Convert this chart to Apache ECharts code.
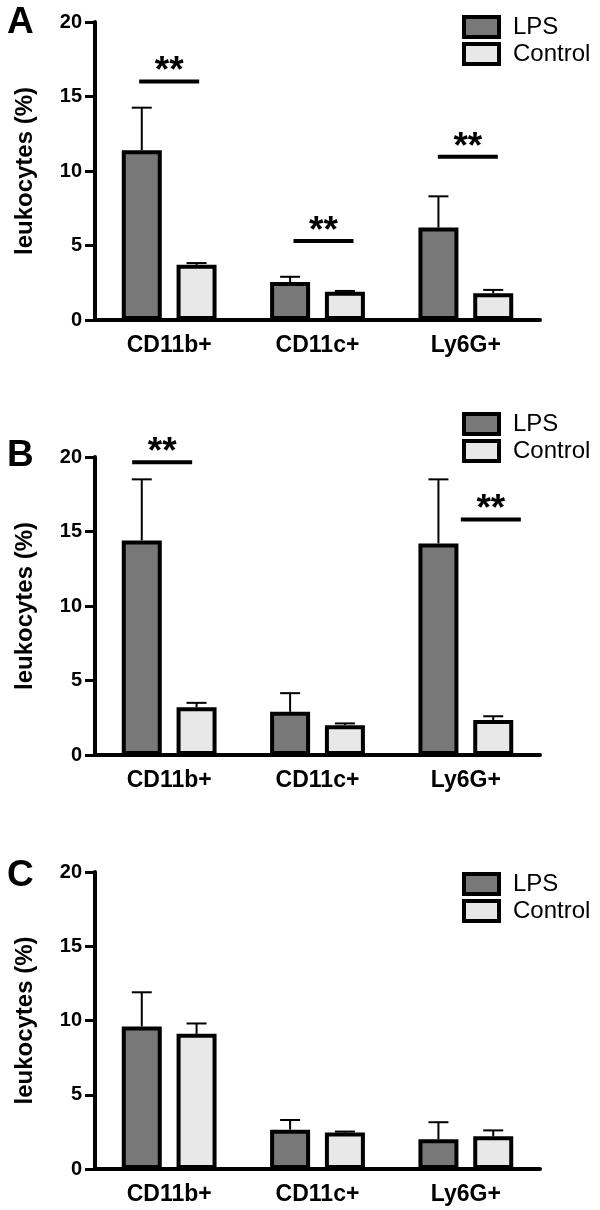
<!DOCTYPE html>
<html>
<head>
<meta charset="utf-8">
<script src="https://cdn.jsdelivr.net/npm/echarts@6/dist/echarts.min.js"></script>
<style>
  html, body { margin: 0; padding: 0; background: #fff; }
  #main { width: 600px; height: 1210px; }
</style>
</head>
<body>
<div id="main"></div>
<script>
// categories and tick labels
var categories = ['CD11b+', 'CD11c+', 'Ly6G+'];
var yTicks = [0, 5, 10, 15, 20];

// panel A
var lpsA = [11.4, 2.55, 6.2];
var lpsSemA = [2.85, 0.35, 2.1];
var ctrlA = [3.7, 1.9, 1.8];
var ctrlSemA = [0.12, 0.05, 0.22];
var sigA = [[0, 16.0, 0], [1, 5.3, 6], [2, 10.95, 2]];

// panel B
var lpsB = [14.4, 2.9, 14.2];
var lpsSemB = [4.1, 1.25, 4.3];
var ctrlB = [3.2, 2.0, 2.35];
var ctrlSemB = [0.3, 0.12, 0.25];
var sigB = [[0, 19.65, -7], [2, 15.8, 25]];

// panel C
var lpsC = [9.6, 2.65, 2.0];
var lpsSemC = [2.3, 0.65, 1.15];
var ctrlC = [9.1, 2.45, 2.2];
var ctrlSemC = [0.7, 0.07, 0.4];
var sigC = [];

var FONT = '"Liberation Sans", Arial, sans-serif';
var BAR_W = 40;
var BAR_GAP = 0.37;
var OFF = (BAR_W + BAR_W * BAR_GAP) / 2;

var panels = [
  { name: 'A', letterTop: 4, top: 22, height: 298, legendTop: 15, lps: lpsA, lpsSem: lpsSemA, ctrl: ctrlA, ctrlSem: ctrlSemA, sig: sigA },
  { name: 'B', letterTop: 437, top: 457, height: 298, legendTop: 412, lps: lpsB, lpsSem: lpsSemB, ctrl: ctrlB, ctrlSem: ctrlSemB, sig: sigB },
  { name: 'C', letterTop: 857, top: 872, height: 297, legendTop: 872, lps: lpsC, lpsSem: lpsSemC, ctrl: ctrlC, ctrlSem: ctrlSemC, sig: sigC }
];

function errorRender(offset) {
  return function (params, api) {
    var x = api.value(0), v = api.value(1), e = api.value(2);
    var base = api.coord([x, v]);
    var top = api.coord([x, v + e]);
    var cx = base[0] + offset;
    return {
      type: 'group',
      children: [
        { type: 'line', shape: { x1: cx, y1: base[1], x2: cx, y2: top[1] }, style: { stroke: '#000', lineWidth: 2 } },
        { type: 'line', shape: { x1: cx - 10, y1: top[1], x2: cx + 10, y2: top[1] }, style: { stroke: '#000', lineWidth: 2 } }
      ]
    };
  };
}

function sigRender(params, api) {
  var p = api.coord([api.value(0), api.value(1)]);
  var cx = p[0] + api.value(2);
  return {
    type: 'group',
    children: [
      { type: 'line', shape: { x1: cx - 30, y1: p[1], x2: cx + 30, y2: p[1] }, style: { stroke: '#000', lineWidth: 4 } },
      { type: 'text', x: cx, y: p[1] + 9, style: { text: '**', fontSize: 37, fontWeight: 'bold', fontFamily: FONT, fill: '#000', align: 'center', verticalAlign: 'bottom' } }
    ]
  };
}

var option = {
  animation: false,
  backgroundColor: '#fff',
  title: [],
  legend: [],
  grid: [],
  xAxis: [],
  yAxis: [],
  series: []
};

panels.forEach(function (p, k) {
  option.title.push({
    text: p.name, left: 7, top: p.letterTop, padding: 0,
    textStyle: { fontSize: 37, fontWeight: 'bold', fontFamily: FONT, color: '#000' }
  });
  option.legend.push({
    data: ['LPS', 'Control'],
    orient: 'vertical', left: 462, top: p.legendTop, padding: 0,
    icon: 'rect',
    itemWidth: 35, itemHeight: 20, itemGap: 3,
    itemStyle: { borderWidth: 4, borderColor: '#000' },
    textStyle: { fontSize: 24, fontFamily: FONT, color: '#000', padding: [0, 0, 0, 9] },
    selectedMode: false
  });
  option.grid.push({ left: 95, width: 445, top: p.top, height: p.height });
  option.xAxis.push({
    type: 'category', gridIndex: k, data: categories,
    axisLine: { lineStyle: { color: '#000', width: 4 } },
    axisTick: { alignWithLabel: true, length: 9, lineStyle: { color: '#000', width: 3 } },
    axisLabel: { fontSize: 23, fontWeight: 'bold', fontFamily: FONT, color: '#000', margin: 14 }
  });
  option.yAxis.push({
    type: 'value', gridIndex: k, min: yTicks[0], max: yTicks[yTicks.length - 1], interval: 5,
    name: 'leukocytes (%)', nameLocation: 'middle', nameGap: 58, nameRotate: 90,
    nameTextStyle: { fontSize: 24, fontWeight: 'bold', fontFamily: FONT, color: '#000' },
    axisLine: { show: true, lineStyle: { color: '#000', width: 4 } },
    axisTick: { show: true, length: 10, lineStyle: { color: '#000', width: 3 } },
    axisLabel: { fontSize: 20, fontWeight: 'bold', fontFamily: FONT, color: '#000', margin: 13 },
    splitLine: { show: false }
  });
  option.series.push({
    name: 'LPS', type: 'bar', xAxisIndex: k, yAxisIndex: k, data: p.lps,
    barWidth: BAR_W, barGap: (BAR_GAP * 100) + '%', z: 3,
    itemStyle: { color: '#787878', borderColor: '#000', borderWidth: 4 }
  });
  option.series.push({
    name: 'Control', type: 'bar', xAxisIndex: k, yAxisIndex: k, data: p.ctrl,
    barWidth: BAR_W, barGap: (BAR_GAP * 100) + '%', z: 3,
    itemStyle: { color: '#e8e8e8', borderColor: '#000', borderWidth: 4 }
  });
  option.series.push({
    type: 'custom', xAxisIndex: k, yAxisIndex: k, z: 2,
    renderItem: errorRender(-OFF),
    data: p.lps.map(function (v, i) { return [i, v, p.lpsSem[i]]; })
  });
  option.series.push({
    type: 'custom', xAxisIndex: k, yAxisIndex: k, z: 2,
    renderItem: errorRender(OFF),
    data: p.ctrl.map(function (v, i) { return [i, v, p.ctrlSem[i]]; })
  });
  if (p.sig.length) {
    option.series.push({
      type: 'custom', xAxisIndex: k, yAxisIndex: k, z: 4,
      renderItem: sigRender, data: p.sig
    });
  }
});

var chart = echarts.init(document.getElementById('main'));
chart.setOption(option);
</script>
</body>
</html>
